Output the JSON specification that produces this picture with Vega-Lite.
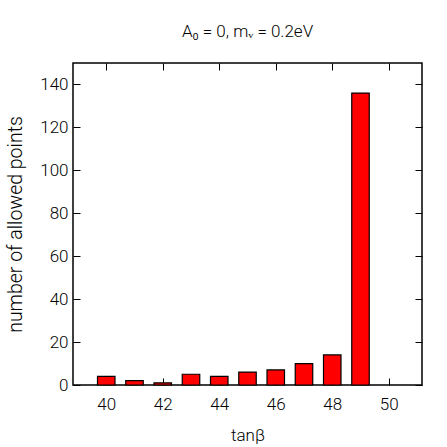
{
  "$schema": "https://vega.github.io/schema/vega-lite/v6.json",
  "width": 349,
  "height": 322,
  "autosize": "none",
  "padding": {"left": 73, "top": 63, "right": 25, "bottom": 62},
  "background": "white",
  "title": {
    "text": "A₀ = 0, mᵥ = 0.2eV",
    "font": "Roboto",
    "fontSize": 17,
    "fontWeight": 300,
    "color": "black",
    "offset": 22,
    "anchor": "middle"
  },
  "data": {
    "values": [
      {"tanb": 40, "n": 4},
      {"tanb": 41, "n": 2},
      {"tanb": 42, "n": 1},
      {"tanb": 43, "n": 5},
      {"tanb": 44, "n": 4},
      {"tanb": 45, "n": 6},
      {"tanb": 46, "n": 7},
      {"tanb": 47, "n": 10},
      {"tanb": 48, "n": 14},
      {"tanb": 49, "n": 136}
    ]
  },
  "config": {
    "view": {"stroke": "black", "strokeWidth": 1.5},
    "axis": {
      "grid": false,
      "domain": false,
      "tickColor": "black",
      "tickWidth": 1,
      "tickSize": -7,
      "labelFont": "Roboto",
      "labelFontSize": 17,
      "labelFontWeight": 300,
      "labelColor": "black",
      "titleFont": "Roboto",
      "titleFontSize": 17,
      "titleFontWeight": 300,
      "titleColor": "black"
    }
  },
  "layer": [
    {
      "mark": {"type": "bar", "fill": "#ff0000", "stroke": "black", "strokeWidth": 1.2, "size": 17.5},
      "encoding": {
        "x": {
          "field": "tanb", "type": "quantitative",
          "scale": {"domain": [39, 51], "nice": false, "zero": false},
          "axis": {"values": [40, 42, 44, 46, 48, 50], "title": "tanβ", "labelPadding": 18, "titleY": 42, "format": "d"}
        },
        "y": {
          "field": "n", "type": "quantitative",
          "scale": {"domain": [0, 150], "nice": false},
          "axis": {
            "values": [0, 20, 40, 60, 80, 100, 120, 140],
            "title": "number of allowed points",
            "titleFontSize": 19.5,
            "titleFontWeight": 300,
            "labelPadding": 12,
            "titleX": -48
          }
        }
      }
    },
    {
      "mark": {"type": "bar", "opacity": 0, "size": 17.5},
      "encoding": {
        "x": {
          "field": "tanb", "type": "quantitative",
          "axis": {"orient": "top", "values": [40, 42, 44, 46, 48, 50], "labels": false, "title": null}
        },
        "y": {
          "field": "n", "type": "quantitative",
          "axis": {"orient": "right", "values": [0, 20, 40, 60, 80, 100, 120, 140], "labels": false, "title": null}
        }
      }
    }
  ],
  "resolve": {"axis": {"x": "independent", "y": "independent"}}
}
